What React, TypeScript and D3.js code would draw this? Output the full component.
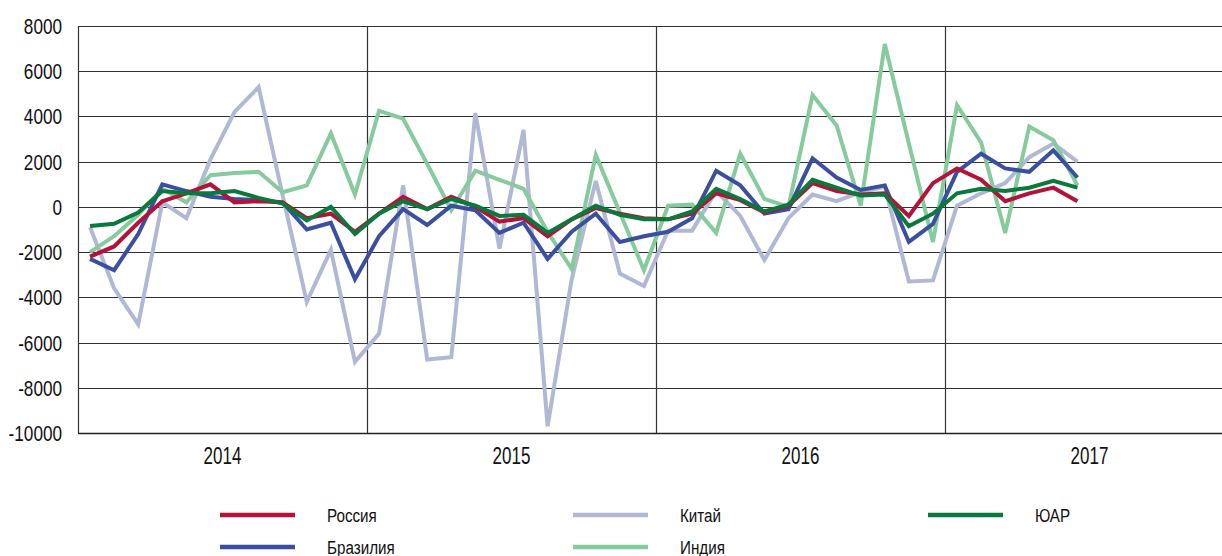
import React from "react";
import * as d3 from "d3";

const years = ["2014", "2015", "2016", "2017"];
const yTicks = [8000, 6000, 4000, 2000, 0, -2000, -4000, -6000, -8000, -10000];

const russia = [
  -2200, -1750, -700, 250, 600, 1000, 200, 250, 200, -500, -300, -1100,
  -300, 450, -100, 450, 0, -650, -500, -1300, -550, -50, -300, -500,
  -550, -300, 600, 300, -250, 50, 1050, 700, 550, 600, -400, 1050,
  1700, 1200, 250, 600, 850, 250,
];
const brazil = [
  -2300, -2800, -1200, 1000, 700, 450, 350, 300, 200, -1000, -700, -3200,
  -1300, -100, -800, 50, -150, -1150, -700, -2300, -1100, -300, -1550, -1300,
  -1100, -500, 1600, 950, -300, -100, 2150, 1300, 750, 950, -1550, -750,
  1550, 2350, 1700, 1550, 2500, 1300,
];
const china = [
  -900, -3600, -5200, 200, -500, 2100, 4200, 5300, 500, -4200, -1900, -6850,
  -5600, 950, -6750, -6650, 4150, -1850, 3400, -9700, -3200, 1150, -2950, -3500,
  -1050, -1050, 700, -400, -2350, -500, 550, 250, 650, 900, -3300, -3250,
  50, 600, 1050, 2200, 2800, 2000,
];
const india = [
  -2000, -1300, -350, 800, 200, 1400, 1500, 1550, 650, 950, 3250, 550,
  4250, 3900, 1900, -150, 1600, 1200, 800, -1100, -2750, 2300, -250, -2800,
  50, 100, -1150, 2350, 350, 0, 4950, 3600, 50, 7200, 2800, -1550,
  4500, 2850, -1150, 3550, 2950, 950,
];
const rsa = [
  -850, -750, -250, 700, 600, 600, 700, 400, 150, -600, 0, -1200,
  -300, 250, -100, 350, 50, -400, -350, -1150, -550, 50, -350, -550,
  -550, -200, 800, 350, -200, 100, 1200, 850, 500, 550, -850, -300,
  600, 800, 700, 850, 1150, 850,
];

const seriesNames = ["Россия", "Бразилия", "Китай", "Индия", "ЮАР"];
const seriesColors = ["#b5123a", "#3a4fa0", "#b0b8d6", "#86cb9b", "#0a7a3c"];
const seriesData = [russia, brazil, china, india, rsa];

const FONT = "'Liberation Sans', Arial, sans-serif";

function NText(props: {
  x: number;
  y: number;
  size: number;
  sx: number;
  anchor?: "start" | "middle" | "end";
  children: React.ReactNode;
}) {
  return (
    <g transform={`translate(${props.x},${props.y}) scale(${props.sx},1)`}>
      <text
        x={0}
        y={0}
        fontSize={props.size}
        textAnchor={props.anchor || "start"}
        fill="#111"
      >
        {props.children}
      </text>
    </g>
  );
}

export default function App() {
  const W = 1222;
  const H = 556;
  const left = 78;
  const monthW = 24.083;
  const x = d3.scaleLinear().domain([0, 48]).range([left, left + 48 * monthW]);
  const y = d3.scaleLinear().domain([-10000, 8000]).range([433, 26]);

  const line = d3
    .line<number>()
    .x((_, i) => x(i + 0.5))
    .y((d) => y(d));

  const drawOrder = [2, 3, 1, 0, 4];

  const legendItems = [
    { i: 0, lx: 220, tx: 327, ly: 515 },
    { i: 1, lx: 220, tx: 327, ly: 547 },
    { i: 2, lx: 573, tx: 680, ly: 515 },
    { i: 3, lx: 573, tx: 680, ly: 547 },
    { i: 4, lx: 928, tx: 1035, ly: 515 },
  ];

  return (
    <svg
      width={W}
      height={H}
      style={{ position: "absolute", left: 0, top: 0, background: "#fff" }}
      fontFamily={FONT}
    >
      <rect x={0} y={0} width={W} height={H} fill="#fff" />
      {yTicks.map((t) => (
        <line
          key={"g" + t}
          x1={left}
          x2={W}
          y1={Math.round(y(t)) + 0.5}
          y2={Math.round(y(t)) + 0.5}
          stroke={t === -10000 ? "#222" : "#333"}
          strokeWidth={t === -10000 ? 1.6 : 1.2}
        />
      ))}
      {[0, 12, 24, 36].map((m) => (
        <line
          key={"v" + m}
          x1={Math.round(x(m)) + 0.5}
          x2={Math.round(x(m)) + 0.5}
          y1={26}
          y2={433}
          stroke="#333"
          strokeWidth={1.2}
        />
      ))}
      {yTicks.map((t) => (
        <NText key={"t" + t} x={62} y={y(t) + 8} size={22} sx={0.78} anchor="end">
          {t}
        </NText>
      ))}
      {years.map((yr, k) => (
        <NText key={yr} x={x(k * 12 + 6)} y={464} size={23} sx={0.74} anchor="middle">
          {yr}
        </NText>
      ))}
      {drawOrder.map((si) => (
        <path
          key={seriesNames[si]}
          d={line(seriesData[si]) || ""}
          fill="none"
          stroke={seriesColors[si]}
          strokeWidth={4}
          strokeLinejoin="miter"
        />
      ))}
      {legendItems.map((it) => (
        <g key={"l" + it.i}>
          <line
            x1={it.lx}
            x2={it.lx + 75}
            y1={it.ly}
            y2={it.ly}
            stroke={seriesColors[it.i]}
            strokeWidth={4.5}
          />
          <NText x={it.tx} y={it.ly + 7} size={19} sx={0.8}>
            {seriesNames[it.i]}
          </NText>
        </g>
      ))}
    </svg>
  );
}
